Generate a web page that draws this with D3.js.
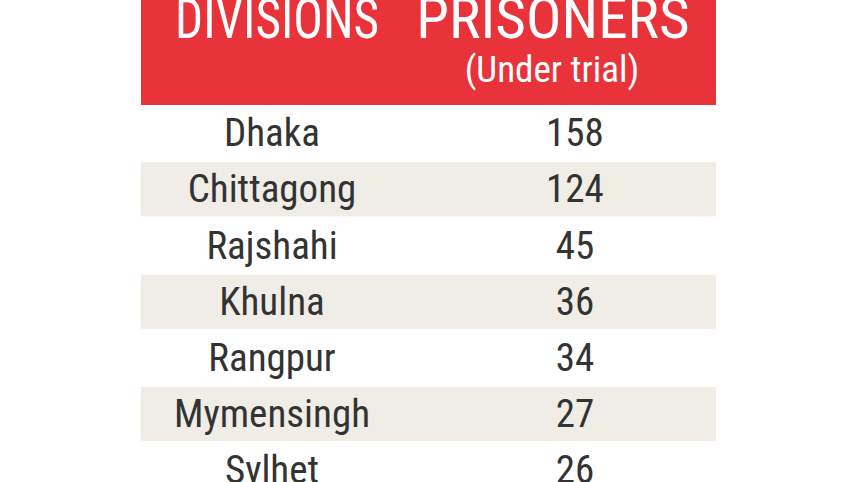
<!DOCTYPE html>
<html><head><meta charset="utf-8">
<script src="https://cdn.jsdelivr.net/npm/d3@7"></script>
<style>body{margin:0;background:#fff}text{font-family:"Liberation Sans Narrow","Roboto Condensed","DejaVu Sans Condensed",sans-serif}</style>
</head><body><svg id="c" width="857" height="482"></svg>
<script>
const divisions=["Dhaka","Chittagong","Rajshahi","Khulna","Rangpur","Mymensingh","Sylhet"];
const prisoners=[158,124,45,36,34,27,26];
const headers=["DIVISIONS","PRISONERS"];
const subHeader="(Under trial)";

const svg=d3.select("#c");
const y=d3.scaleBand().domain(divisions).range([105,105+56.2*7]);
svg.append("rect").attr("x",141).attr("y",0).attr("width",575).attr("height",105).attr("fill","#e8333b");
svg.append("text").attr("x",277).attr("y",38).attr("text-anchor","middle").attr("fill","#fff").attr("font-size",56).attr("transform","translate(277,0) scale(0.88,1) translate(-277,0)").text(headers[0]);
svg.append("text").attr("x",553).attr("y",38).attr("text-anchor","middle").attr("fill","#fff").attr("font-size",58).attr("transform","translate(553,0) scale(1.02,1) translate(-553,0)").text(headers[1]);
svg.append("text").attr("x",552).attr("y",82).attr("text-anchor","middle").attr("fill","#fff").attr("font-size",37).text(subHeader);
const rows=svg.selectAll("g.r").data(divisions).join("g").attr("class","r");
rows.filter((d,i)=>i%2==1).append("rect").attr("x",141).attr("width",575).attr("y",d=>y(d)+1).attr("height",y.bandwidth()-2).attr("fill","#efede6");
rows.append("text").attr("x",272).attr("y",d=>y(d)+y.bandwidth()/2+13).attr("text-anchor","middle").attr("fill","#333").attr("font-size",39).text(d=>d);
rows.append("text").attr("x",575).attr("y",d=>y(d)+y.bandwidth()/2+13).attr("text-anchor","middle").attr("fill","#333").attr("font-size",39).text((d,i)=>prisoners[i]);
</script></body></html>
